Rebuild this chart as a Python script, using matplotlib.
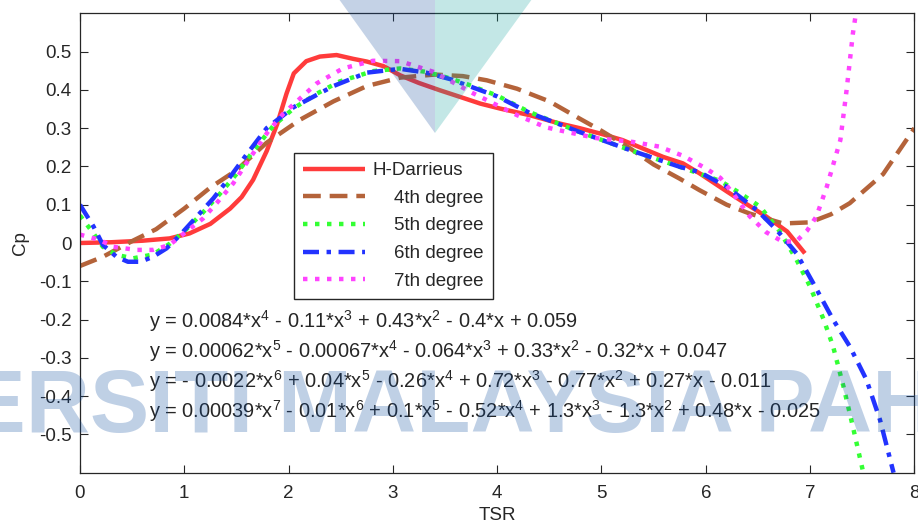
import matplotlib
matplotlib.use("Agg")
import matplotlib.pyplot as plt
from matplotlib.patches import Polygon

plt.rcParams['font.family'] = ['Liberation Sans', 'DejaVu Sans']
plt.rcParams['mathtext.fontset'] = 'custom'
plt.rcParams['mathtext.rm'] = 'Liberation Sans'
plt.rcParams['mathtext.it'] = 'Liberation Sans'
plt.rcParams['mathtext.default'] = 'regular'

TEXT = '#262626'

# Measured power coefficient of the H-Darrieus rotor
tsr_exp = [0.0, 0.3, 0.6, 0.86, 1.05, 1.25, 1.44, 1.55, 1.66, 1.79, 1.89, 1.98, 2.05,
           2.17, 2.3, 2.46, 2.62, 2.75, 2.91, 3.07, 3.25, 3.45, 3.64, 3.84, 4.03,
           4.31, 4.6, 4.79, 5.0, 5.2, 5.59, 5.78, 5.94, 6.2, 6.33, 6.58, 6.78, 6.95]
cp_exp = [0.0, 0.002, 0.006, 0.012, 0.025, 0.05, 0.09, 0.12, 0.165, 0.24, 0.31, 0.39, 0.443,
          0.475, 0.487, 0.491, 0.481, 0.474, 0.462, 0.438, 0.418, 0.399, 0.382, 0.364, 0.351,
          0.334, 0.312, 0.300, 0.285, 0.269, 0.225, 0.208, 0.182, 0.135, 0.112, 0.069, 0.030, -0.027]

# Polynomial fits of increasing order
tsr_p4 = [0.0, 0.22, 0.5, 0.73, 1.0, 1.25, 1.5, 1.79, 2.11, 2.43, 2.75, 3.07, 3.4, 3.67,
          3.9, 4.19, 4.5, 4.79, 5.0, 5.27, 5.5, 5.75, 5.94, 6.2, 6.42, 6.74, 7.0, 7.2,
          7.38, 7.7, 8.0]
cp_p4 = [-0.06, -0.036, 0.005, 0.036, 0.09, 0.145, 0.19, 0.262, 0.322, 0.37, 0.41, 0.432,
         0.44, 0.436, 0.425, 0.403, 0.37, 0.325, 0.293, 0.248, 0.205, 0.168, 0.138, 0.10,
         0.077, 0.051, 0.054, 0.075, 0.104, 0.18, 0.30]

tsr_p5 = [0.0, 0.13, 0.22, 0.35, 0.51, 0.7, 0.86, 1.02, 1.18, 1.34, 1.5, 1.66, 1.85,
          2.05, 2.27, 2.49, 2.81, 3.07, 3.32, 3.55, 3.71, 4.0, 4.31, 4.79, 5.27, 5.75,
          6.14, 6.33, 6.52, 6.71, 6.87, 7.0, 7.13, 7.22, 7.32, 7.41, 7.51]
cp_p5 = [0.072, 0.025, -0.01, -0.031, -0.04, -0.03, -0.002, 0.036, 0.08, 0.128, 0.18,
         0.24, 0.305, 0.352, 0.39, 0.422, 0.449, 0.456, 0.447, 0.43, 0.415, 0.385, 0.342,
         0.29, 0.243, 0.199, 0.162, 0.13, 0.095, 0.03, -0.044, -0.114, -0.2, -0.27,
         -0.375, -0.48, -0.6]

tsr_p6 = [0.0, 0.13, 0.22, 0.35, 0.46, 0.58, 0.7, 0.83, 0.96, 1.12, 1.28, 1.44, 1.6,
          1.79, 2.05, 2.43, 2.75, 3.07, 3.32, 3.55, 3.71, 4.0, 4.31, 4.79, 5.27, 5.75,
          5.94, 6.2, 6.49, 6.68, 6.87, 7.03, 7.22, 7.38, 7.54, 7.67, 7.8]
cp_p6 = [0.10, 0.043, -0.005, -0.036, -0.049, -0.049, -0.036, -0.014, 0.021, 0.069,
         0.117, 0.173, 0.232, 0.3, 0.355, 0.41, 0.445, 0.455, 0.445, 0.428, 0.412, 0.383,
         0.34, 0.29, 0.243, 0.199, 0.185, 0.147, 0.086, 0.034, -0.027, -0.105, -0.2,
         -0.27, -0.357, -0.462, -0.6]

tsr_p7 = [0.0, 0.19, 0.32, 0.54, 0.7, 0.86, 1.02, 1.18, 1.31, 1.47, 1.6, 1.8, 1.95,
          2.27, 2.52, 2.81, 3.07, 3.39, 3.77, 4.19, 4.47, 4.67, 4.95, 5.3, 5.55, 5.78,
          6.0, 6.14, 6.26, 6.42, 6.58, 6.74, 6.87, 6.97, 7.06, 7.16, 7.29, 7.35, 7.41, 7.45]
cp_p7 = [0.022, 0.008, -0.01, -0.018, -0.018, -0.005, 0.03, 0.064, 0.104, 0.156, 0.21,
         0.29, 0.338, 0.417, 0.456, 0.476, 0.475, 0.447, 0.391, 0.334, 0.302, 0.29, 0.274,
         0.264, 0.252, 0.228, 0.195, 0.17, 0.13, 0.07, 0.028, 0.003, 0.005, 0.032, 0.069,
         0.147, 0.269, 0.40, 0.547, 0.62]

legend_labels = ['H-Darrieus', '    4th degree', '    5th degree', '    6th degree', '    7th degree']

equations = [
    r"y = 0.0084*x$^{4}$ - 0.11*x$^{3}$ + 0.43*x$^{2}$ - 0.4*x + 0.059",
    r"y = 0.00062*x$^{5}$ - 0.00067*x$^{4}$ - 0.064*x$^{3}$ + 0.33*x$^{2}$ - 0.32*x + 0.047",
    r"y = - 0.0022*x$^{6}$ + 0.04*x$^{5}$ - 0.26*x$^{4}$ + 0.72*x$^{3}$ - 0.77*x$^{2}$ + 0.27*x - 0.011",
    r"y = 0.00039*x$^{7}$ - 0.01*x$^{6}$ + 0.1*x$^{5}$ - 0.52*x$^{4}$ + 1.3*x$^{3}$ - 1.3*x$^{2}$ + 0.48*x - 0.025",
]
eq_x = 0.665
eq_y = [-0.204, -0.282, -0.360, -0.438]

fig = plt.figure(figsize=(9.18, 5.24), dpi=100)
ax = fig.add_axes([0.0871, 0.0979, 0.9090, 0.8767])

lw = 3.2
ax.plot(tsr_exp, cp_exp, color='#FF3B3B', lw=lw, solid_capstyle='butt', label=legend_labels[0])
ax.plot(tsr_p4, cp_p4, color='#B4633A', lw=lw, dashes=(4.0, 2.0), label=legend_labels[1])
ax.plot(tsr_p5, cp_p5, color='#33FF33', lw=lw, dashes=(1.0, 1.7), label=legend_labels[2])
ax.plot(tsr_p6, cp_p6, color='#2233FF', lw=lw, dashes=(3.6, 1.7, 1.0, 1.7), label=legend_labels[3])
ax.plot(tsr_p7, cp_p7, color='#FF44FF', lw=lw, dashes=(1.0, 1.7), label=legend_labels[4])

ax.set_xlim(0, 8)
ax.set_ylim(-0.6, 0.6)
ax.set_xticks(range(0, 9))
yt = [-0.5, -0.4, -0.3, -0.2, -0.1, 0.0, 0.1, 0.2, 0.3, 0.4, 0.5]
ax.set_yticks(yt)
ax.set_yticklabels(['-0.5', '-0.4', '-0.3', '-0.2', '-0.1', '0', '0.1', '0.2', '0.3', '0.4', '0.5'])
ax.tick_params(direction='in', length=6, width=0.8, colors=TEXT, labelsize=13.5,
               top=True, right=True)
ax.tick_params(axis='x', pad=9)
ax.tick_params(axis='y', pad=6)
for s in ax.spines.values():
    s.set_color(TEXT)
    s.set_linewidth(0.9)
ax.set_xlabel('TSR', fontsize=13.5, color=TEXT, labelpad=3.5)
ax.set_ylabel('Cp', fontsize=13.5, color=TEXT, labelpad=7)

for txt, y in zip(equations, eq_y):
    ax.text(eq_x, y, txt, fontsize=14.4, color=TEXT, va='center', ha='left')

leg = ax.legend(loc='upper left', bbox_to_anchor=(0.2564, 0.6966), frameon=True,
                fancybox=False, edgecolor=TEXT, fontsize=13.5, handlelength=3.3,
                handletextpad=0.4, borderpad=0.5, labelspacing=0.56, borderaxespad=0,
                framealpha=1)
leg.get_frame().set_linewidth(1.0)
for t in leg.get_texts():
    t.set_color(TEXT)


def px(xp, yp):
    return (xp / 918.0, 1.0 - yp / 524.0)


# University watermark: split triangle emblem and name band
fig.add_artist(Polygon([px(336, -5), px(435, -5), px(435, 133)], closed=True,
                       transform=fig.transFigure, facecolor=(0.09, 0.31, 0.62),
                       edgecolor='none', alpha=0.25, zorder=5))
fig.add_artist(Polygon([px(435, -5), px(535, -5), px(435, 133)], closed=True,
                       transform=fig.transFigure, facecolor=(0.07, 0.64, 0.61),
                       edgecolor='none', alpha=0.25, zorder=5))
fig.text(444 / 918.0, 1.0 - 432 / 524.0, 'UNIVERSITI MALAYSIA PAHANG', fontsize=64,
         fontweight='bold', color=(0.04, 0.29, 0.62), alpha=0.26, ha='center',
         va='baseline', zorder=6)

fig.savefig('out.png', dpi=100)
